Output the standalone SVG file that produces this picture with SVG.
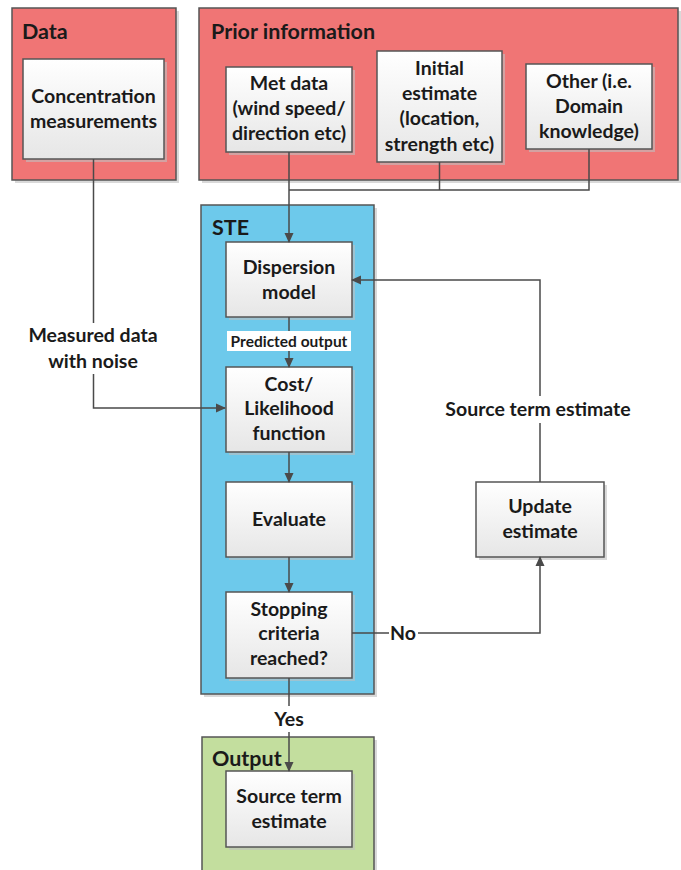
<svg xmlns="http://www.w3.org/2000/svg" width="681" height="870" viewBox="0 0 681 870">
<defs>
<linearGradient id="boxg" x1="0" y1="0" x2="0" y2="1">
<stop offset="0" stop-color="#ffffff"/>
<stop offset="1" stop-color="#e6e6e6"/>
</linearGradient>
<marker id="ah" markerWidth="10" markerHeight="10" refX="9" refY="5" orient="auto" markerUnits="userSpaceOnUse">
<path d="M0,0.5 L10,5 L0,9.5 z" fill="#4a4a4a"/>
</marker>
<style>
.shadow{fill:#bfbfbf;opacity:0.6}
.grp{stroke:#555;stroke-width:1.5}
.red{fill:#f07575}
.blue{fill:#6dc9eb}
.green{fill:#c3de9e}
.box{fill:url(#boxg);stroke:#555;stroke-width:1.5}
.t{font-family:Lato,"Liberation Sans",sans-serif;font-weight:bold;font-size:19.5px;fill:#1a1a1a;text-anchor:middle}
.h{font-family:Lato,"Liberation Sans",sans-serif;font-weight:bold;font-size:21.5px;fill:#1a1a1a}
.s{font-family:Lato,"Liberation Sans",sans-serif;font-weight:bold;font-size:15.5px;fill:#1a1a1a;text-anchor:middle}
.ln{fill:none;stroke:#4a4a4a;stroke-width:1.5}
</style>
</defs>

<g id="data">
<rect class="shadow" x="15" y="11" width="164" height="172"/>
<rect class="grp red" x="12" y="8" width="164" height="172"/>
<text class="h" x="22" y="39">Data</text>
</g>
<g id="concentration">
<rect class="shadow" x="26" y="62" width="141" height="100"/>
<rect class="box" x="23" y="59" width="141" height="100"/>
<text class="t" x="93.5" y="103">Concentration</text>
<text class="t" x="93.5" y="128">measurements</text>
</g>

<g id="prior">
<rect class="shadow" x="202" y="11" width="479" height="172"/>
<rect class="grp red" x="199" y="8" width="479" height="172"/>
<text class="h" x="211" y="39">Prior information</text>
</g>
<g id="met">
<rect class="shadow" x="229" y="70" width="126" height="85"/>
<rect class="box" x="226" y="67" width="126" height="85"/>
<text class="t" x="289" y="90">Met data</text>
<text class="t" x="289" y="115">(wind speed/</text>
<text class="t" x="289" y="140">direction etc)</text>
</g>
<g id="initial">
<rect class="shadow" x="380" y="54" width="125" height="111"/>
<rect class="box" x="377" y="51" width="125" height="111"/>
<text class="t" x="439.5" y="75">Initial</text>
<text class="t" x="439.5" y="100">estimate</text>
<text class="t" x="439.5" y="125">(location,</text>
<text class="t" x="439.5" y="151">strength etc)</text>
</g>
<g id="other">
<rect class="shadow" x="529" y="67" width="126" height="85"/>
<rect class="box" x="526" y="64" width="126" height="85"/>
<text class="t" x="589" y="88">Other (i.e.</text>
<text class="t" x="589" y="113">Domain</text>
<text class="t" x="589" y="138">knowledge)</text>
</g>

<g id="ste">
<rect class="shadow" x="204" y="208" width="173" height="489"/>
<rect class="grp blue" x="201" y="205" width="173" height="489"/>
<text class="h" x="212" y="235">STE</text>
</g>
<g id="dispersion">
<rect class="shadow" x="229" y="245" width="126" height="75"/>
<rect class="box" x="226" y="242" width="126" height="75"/>
<text class="t" x="289" y="274">Dispersion</text>
<text class="t" x="289" y="299">model</text>
</g>
<g id="cost">
<rect class="shadow" x="229" y="370" width="126" height="85"/>
<rect class="box" x="226" y="367" width="126" height="85"/>
<text class="t" x="289" y="391">Cost/</text>
<text class="t" x="289" y="415">Likelihood</text>
<text class="t" x="289" y="440">function</text>
</g>
<g id="evaluate">
<rect class="shadow" x="229" y="485" width="126" height="75"/>
<rect class="box" x="226" y="482" width="126" height="75"/>
<text class="t" x="289" y="526">Evaluate</text>
</g>
<g id="stopping">
<rect class="shadow" x="229" y="595" width="126" height="86"/>
<rect class="box" x="226" y="592" width="126" height="86"/>
<text class="t" x="289" y="616">Stopping</text>
<text class="t" x="289" y="640">criteria</text>
<text class="t" x="289" y="665">reached?</text>
</g>
<g id="update">
<rect class="shadow" x="479" y="485" width="128" height="75"/>
<rect class="box" x="476" y="482" width="128" height="75"/>
<text class="t" x="540" y="513">Update</text>
<text class="t" x="540" y="538">estimate</text>
</g>

<g id="output">
<rect class="shadow" x="205" y="740" width="172" height="140"/>
<rect class="grp green" x="202" y="737" width="172" height="140"/>
<text class="h" x="212" y="766">Output</text>
</g>
<g id="source">
<rect class="shadow" x="229" y="774" width="126" height="76"/>
<rect class="box" x="226" y="771" width="126" height="76"/>
<text class="t" x="289" y="803">Source term</text>
<text class="t" x="289" y="828">estimate</text>
</g>

<g id="connectors">
<path class="ln" d="M93.5,159 V323"/>
<path class="ln" d="M93.5,374 V408 H225" marker-end="url(#ah)"/>
<text class="t" x="93" y="342">Measured data</text>
<text class="t" x="93" y="368">with noise</text>

<path class="ln" d="M289,152 V242" marker-end="url(#ah)"/>
<path class="ln" d="M289,190 H589 V149 M439.5,190 V162"/>

<path class="ln" d="M289,317 V331"/>
<rect x="227" y="331" width="124" height="20" fill="#ffffff"/>
<text class="s" x="289" y="347">Predicted output</text>
<path class="ln" d="M289,351 V367" marker-end="url(#ah)"/>

<path class="ln" d="M289,452 V482" marker-end="url(#ah)"/>
<path class="ln" d="M289,557 V592" marker-end="url(#ah)"/>

<path class="ln" d="M352,633 H389 M418,633 H540 V557" marker-end="url(#ah)"/>
<text class="t" x="403" y="640">No</text>

<path class="ln" d="M540,482 V423 M540,396 V280 H352" marker-end="url(#ah)"/>
<text class="t" x="538" y="416">Source term estimate</text>

<path class="ln" d="M289,678 V706"/>
<text class="t" x="289" y="726">Yes</text>
<path class="ln" d="M289,732 V771" marker-end="url(#ah)"/>
</g>
</svg>
